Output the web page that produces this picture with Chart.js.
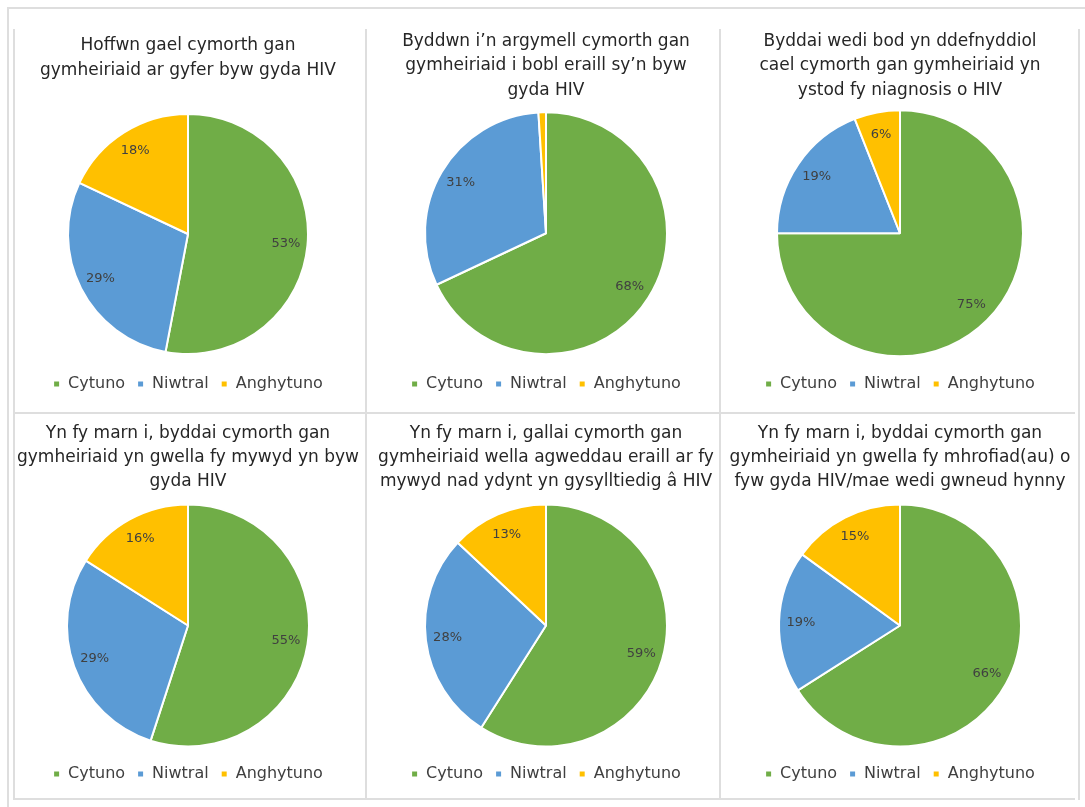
<!DOCTYPE html>
<html>
<head>
<meta charset="utf-8">
<script src="https://cdn.jsdelivr.net/npm/chart.js@4/dist/chart.umd.min.js"></script>
<style>
  html, body { margin: 0; padding: 0; background: #fff; }
  #page { position: relative; width: 1085px; height: 807px; background: #fff; overflow: hidden; }
  .ln { position: absolute; background: #dedede; }
  .box { position: absolute; }
</style>
</head>
<body>
<div id="page">
  <div class="ln" style="left:7px;top:7px;width:1078px;height:2px;"></div>
  <div class="ln" style="left:7px;top:7px;width:2px;height:800px;"></div>
  <div class="ln" style="left:13px;top:29px;width:2px;height:771px;"></div>
  <div class="ln" style="left:365px;top:29px;width:2px;height:771px;"></div>
  <div class="ln" style="left:719px;top:29px;width:2px;height:771px;"></div>
  <div class="ln" style="left:1078px;top:29px;width:2px;height:771px;"></div>
  <div class="ln" style="left:13px;top:412px;width:1062px;height:2px;"></div>
  <div class="ln" style="left:13px;top:798px;width:1062px;height:2px;"></div>

  <div class="box" style="left:14px;top:26px;width:348px;height:386px;"><canvas id="c1"></canvas></div>
  <div class="box" style="left:372px;top:26px;width:348px;height:386px;"><canvas id="c2"></canvas></div>
  <div class="box" style="left:726px;top:26px;width:348px;height:386px;"><canvas id="c3"></canvas></div>
  <div class="box" style="left:14px;top:415px;width:348px;height:383px;"><canvas id="c4"></canvas></div>
  <div class="box" style="left:372px;top:415px;width:348px;height:383px;"><canvas id="c5"></canvas></div>
  <div class="box" style="left:726px;top:415px;width:348px;height:383px;"><canvas id="c6"></canvas></div>
</div>
<script>
// ---- data ----
const categories = ['Cytuno', 'Niwtral', 'Anghytuno'];
const colors = ['#70AD47', '#5B9BD5', '#FFC000'];

const title1 = ['Hoffwn gael cymorth gan', 'gymheiriaid ar gyfer byw gyda HIV'];
const title2 = ['Byddwn i\u2019n argymell cymorth gan', 'gymheiriaid i bobl eraill sy\u2019n byw', 'gyda HIV'];
const title3 = ['Byddai wedi bod yn ddefnyddiol', 'cael cymorth gan gymheiriaid yn', 'ystod fy niagnosis o HIV'];
const title4 = ['Yn fy marn i, byddai cymorth gan', 'gymheiriaid yn gwella fy mywyd yn byw', 'gyda HIV'];
const title5 = ['Yn fy marn i, gallai cymorth gan', 'gymheiriaid wella agweddau eraill ar fy', 'mywyd nad ydynt yn gysylltiedig \u00e2 HIV'];
const title6 = ['Yn fy marn i, byddai cymorth gan', 'gymheiriaid yn gwella fy mhrofiad(au) o', 'fyw gyda HIV/mae wedi gwneud hynny'];

const values1 = [53, 29, 18];
const values2 = [68, 31, 1];
const values3 = [75, 19, 6];
const values4 = [55, 29, 16];
const values5 = [59, 28, 13];
const values6 = [66, 19, 15];

// ---- rendering ----
const FONT = '"DejaVu Sans", sans-serif';
const TEXT = '#404040';

const pctLabels = {
  id: 'pctLabels',
  afterDatasetsDraw(chart) {
    const ctx = chart.ctx;
    const meta = chart.getDatasetMeta(0);
    const data = chart.data.datasets[0].data;
    ctx.save();
    ctx.font = '13px ' + FONT;
    ctx.fillStyle = TEXT;
    ctx.textAlign = 'center';
    ctx.textBaseline = 'middle';
    meta.data.forEach((arc, i) => {
      if (data[i] < 2) return;
      const p = arc.getProps(['x', 'y', 'startAngle', 'endAngle', 'outerRadius'], true);
      const mid = (p.startAngle + p.endAngle) / 2;
      const r = p.outerRadius * 0.82;
      ctx.fillText(data[i] + '%', p.x + Math.cos(mid) * r, p.y + Math.sin(mid) * r);
    });
    ctx.restore();
  }
};

function makePie(id, title, values, lay) {
  new Chart(document.getElementById(id), {
    type: 'pie',
    data: {
      labels: categories,
      datasets: [{
        data: values,
        backgroundColor: colors,
        borderColor: '#ffffff',
        borderWidth: 2,
        radius: lay.r
      }]
    },
    options: {
      responsive: true,
      maintainAspectRatio: false,
      animation: false,
      layout: { padding: { top: 0, bottom: lay.bottom, left: 0, right: 0 } },
      plugins: {
        title: {
          display: true,
          text: title,
          color: '#262626',
          font: { family: FONT, size: 17, weight: 'normal', lineHeight: lay.lh },
          padding: { top: lay.tTop, bottom: lay.tBottom }
        },
        legend: {
          position: 'bottom',
          labels: {
            usePointStyle: true,
            pointStyle: 'rect',
            boxWidth: 7,
            boxHeight: 7,
            padding: 12,
            color: TEXT,
            font: { family: FONT, size: 16 }
          }
        },
        tooltip: { enabled: false }
      }
    },
    plugins: [pctLabels]
  });
}

makePie('c1', title1, values1, { lh: '25px', tTop: 7, tBottom: 21, bottom: 10, r: 120 });
makePie('c2', title2, values2, { lh: '24.5px', tTop: 3, tBottom: 0, bottom: 10, r: 121 });
makePie('c3', title3, values3, { lh: '24.5px', tTop: 3, tBottom: 0, bottom: 10, r: 123 });
makePie('c4', title4, values4, { lh: '24px', tTop: 7, tBottom: 3, bottom: 6, r: 121 });
makePie('c5', title5, values5, { lh: '24px', tTop: 7, tBottom: 3, bottom: 6, r: 121 });
makePie('c6', title6, values6, { lh: '24px', tTop: 7, tBottom: 3, bottom: 6, r: 121 });
</script>
</body>
</html>
